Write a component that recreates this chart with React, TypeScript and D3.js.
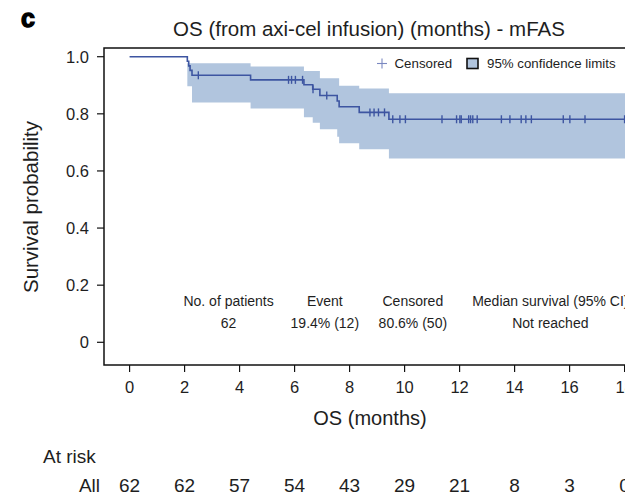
import * as d3 from 'd3';

// Kaplan-Meier steps (months, survival, 95% CI)
const eventTimes = [2.1, 2.15, 2.2, 2.27, 4.4, 6.34, 6.66, 6.92, 7.55, 7.62, 8.35, 9.43];
const survival = [0.984, 0.968, 0.952, 0.935, 0.919, 0.902, 0.886, 0.864, 0.845, 0.825, 0.805, 0.781];
const ciUpper = [0.977, 0.977, 0.977, 0.977, 0.966, 0.95, 0.95, 0.925, 0.925, 0.898, 0.889, 0.872];
const ciLower = [0.897, 0.897, 0.897, 0.84, 0.819, 0.788, 0.769, 0.746, 0.72, 0.697, 0.676, 0.644];
const censorTimes = [
    2.5, 5.78, 5.89, 6.03, 6.29, 6.67, 7.17, 8.74, 8.89, 9.05, 9.27,
    9.57, 9.83, 10.03, 11.36, 11.89, 12.01, 12.06, 12.33, 12.4, 12.48, 12.64,
    13.52, 13.83, 14.24, 14.41, 14.61, 15.77, 16.01, 16.56, 18.0,
];
const lastFollowUp = 19.2;

const xTicks = [0, 2, 4, 6, 8, 10, 12, 14, 16, 18];
const yTicks = [0, 0.2, 0.4, 0.6, 0.8, 1.0];
const yTickLabels = ['0', '0.2', '0.4', '0.6', '0.8', '1.0'];
const atRisk = [62, 62, 57, 54, 43, 29, 21, 8, 3, 0];

const summaryHeads = ['No. of patients', 'Event', 'Censored', 'Median survival (95% CI)'];
const summaryValues = ['62', '19.4% (12)', '80.6% (50)', 'Not reached'];
const summaryAt = [3.6, 7.1, 10.3, 15.3]; // column centres, in months

const width = 625;
const height = 496;
const marginLeft = 104;
const marginTop = 48;
const plotBottom = 365;
const plotRight = 657.6;

const lineColor = '#3d55a1';
const bandColor = '#b1c5de';
const textColor = '#1e1e1e';
const font = '"Liberation Sans", Arial, sans-serif';

export default function App() {
    const x = d3.scaleLinear([-0.93, 19.2], [marginLeft, plotRight]);
    const y = d3.scaleLinear([-0.0795, 1.0305], [plotBottom, marginTop]);

    const steps = [{ t: 0, s: 1, lo: 1, hi: 1 }].concat(
        eventTimes.map((t, i) => ({ t, s: survival[i], lo: ciLower[i], hi: ciUpper[i] }))
    );
    steps.push({ ...steps[steps.length - 1], t: lastFollowUp });

    const band = d3.area<any>()
        .curve(d3.curveStepAfter)
        .x((d) => x(d.t))
        .y0((d) => y(d.lo))
        .y1((d) => y(d.hi));
    const line = d3.line<any>()
        .curve(d3.curveStepAfter)
        .x((d) => x(d.t))
        .y((d) => y(d.s));

    const survivalAt = (t: number) => {
        const i = d3.bisectRight(eventTimes, t);
        return i === 0 ? 1 : survival[i - 1];
    };

    return (
        <svg width={width} height={height} style={{ position: 'absolute', left: 0, top: 0 }} fontFamily={font}>
            <rect width={width} height={height} fill="#fff" />
            <text x={21} y={27} fontSize={25} fontWeight="900" fill="#000" stroke="#000" strokeWidth={1.4}>c</text>
            <text x={369} y={36} fontSize={20.5} textAnchor="middle" fill={textColor}>
                OS (from axi-cel infusion) (months) - mFAS
            </text>

            <path d={band(steps) ?? ''} fill={bandColor} />
            <path d={line(steps) ?? ''} fill="none" stroke={lineColor} strokeWidth={1.6} />
            <g stroke={lineColor} strokeWidth={1.4}>
                {censorTimes.map((t, i) => (
                    <line key={i} x1={x(t)} x2={x(t)} y1={y(survivalAt(t)) - 4} y2={y(survivalAt(t)) + 4} />
                ))}
            </g>

            <rect x={marginLeft} y={marginTop} width={plotRight - marginLeft} height={plotBottom - marginTop}
                fill="none" stroke="#111" strokeWidth={1.5} />

            <g fontSize={16.5} fill={textColor}>
                {yTicks.map((v, i) => (
                    <g key={v}>
                        <line x1={marginLeft - 7} x2={marginLeft} y1={y(v)} y2={y(v)} stroke="#111" strokeWidth={1.2} />
                        <text x={marginLeft - 15} y={y(v)} dy="0.36em" textAnchor="end">{yTickLabels[i]}</text>
                    </g>
                ))}
                {xTicks.map((v) => (
                    <g key={v}>
                        <line x1={x(v)} x2={x(v)} y1={plotBottom} y2={plotBottom + 7} stroke="#111" strokeWidth={1.2} />
                        <text x={x(v)} y={393} textAnchor="middle">{v}</text>
                    </g>
                ))}
            </g>

            <text x={370} y={425} fontSize={20} textAnchor="middle" fill={textColor}>OS (months)</text>
            <text transform="translate(38,207) rotate(-90)" fontSize={20.5} textAnchor="middle" fill={textColor}>
                Survival probability
            </text>

            <g fontSize={13.3} fill={textColor}>
                <line x1={377} x2={387} y1={63.5} y2={63.5} stroke="#7a88c0" strokeWidth={1.1} />
                <line x1={382} x2={382} y1={58.5} y2={68.5} stroke="#7a88c0" strokeWidth={1.1} />
                <text x={394.5} y={68}>Censored</text>
                <rect x={467} y={58.5} width={11} height={10} fill={bandColor} stroke="#111" strokeWidth={1.6} />
                <text x={487} y={68}>95% confidence limits</text>
            </g>

            <g fontSize={14} fill={textColor} textAnchor="middle">
                {summaryHeads.map((h, i) => (
                    <g key={h}>
                        <text x={x(summaryAt[i])} y={306}>{h}</text>
                        <text x={x(summaryAt[i])} y={327.5}>{summaryValues[i]}</text>
                    </g>
                ))}
            </g>

            <g fontSize={19} fill={textColor}>
                <text x={43} y={463}>At risk</text>
                <text x={100} y={492} textAnchor="end">All</text>
                {atRisk.map((n, i) => (
                    <text key={i} x={x(xTicks[i])} y={492} textAnchor="middle">{n}</text>
                ))}
            </g>
        </svg>
    );
}
